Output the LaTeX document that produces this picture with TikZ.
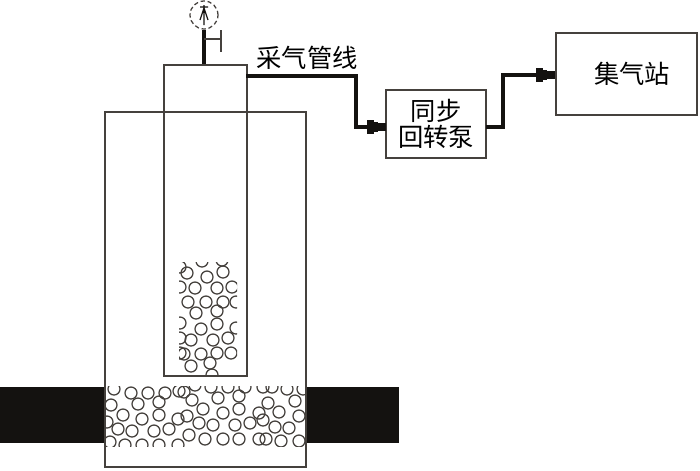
\documentclass[tikz,border=0pt]{standalone}
\usepackage{fontspec}
\setmainfont{Noto Sans CJK SC}
\usepackage{xcolor}
\definecolor{wall}{HTML}{45413D}
\definecolor{pipe}{HTML}{141210}
\usepackage{tikz}
\usetikzlibrary{arrows.meta, positioning, calc}

\begin{document}
\begin{tikzpicture}[
    x=0.025cm, y=-0.025cm,
    font=\fontsize{18}{19}\selectfont,
    wallbox/.style={draw=wall, line width=1pt, minimum height=#1, inner sep=0pt, align=center},
    block/.style={fill=pipe, minimum width=2.5cm, minimum height=1.4cm, inner sep=0pt},
    gas/.style={-{Square[length=1.8mm,width=3.3mm] Square[length=1mm,width=2.7mm] Square[length=2mm,width=1.8mm]}, draw=pipe, line width=2.8pt},
    bead/.style={draw=wall, line width=0.9pt},
]
\useasboundingbox (0,0) rectangle (700,470);

\node[block, minimum width=2.625cm] (blockl) at (52.5,415) {};
\node[block, minimum width=2.325cm] (blockr) at (352.5,415) {};
\node[wallbox=8.875cm, minimum width=5.025cm] (vessel) at (205.5,289.5) {};
\node[wallbox=7.775cm, minimum width=2.075cm] (tube) at (205.5,220.5) {};
\node[wallbox=1.7cm, minimum width=2.5cm] (pump) at (436,124) {同步\\回转泵};
\node[wallbox=2.05cm, minimum width=3.525cm] (station) at (626.5,74) {};
\node (stationlabel) at (632,74) {集气站};
\node (linelabel) at (307,58) {采气管线};

% gauge on top of the tube
\node[draw=wall, densely dashed, line width=0.9pt, circle, minimum size=0.7cm, inner sep=0pt] (gauge) at (204,15) {};
\draw[pipe, line width=0.8pt] (204,5) -- (204,25) (204,8) -- (200,20) (204,8) -- (208,20) (200,7) -- (208,7);
\draw[pipe, line width=2.8pt] (gauge.south) -- (gauge.south |- tube.north);
\coordinate (valve) at (204,39);
\coordinate (valvetop) at (221,30);
\coordinate (valvebot) at (221,52);
\draw[wall, line width=1pt] (valve) -- (valve -| valvetop);
\draw[wall, line width=1pt] (valvetop) -- (valvebot);

% pipes
\coordinate (pipestart) at (246,76);
\coordinate (bendone) at (356,76);
\coordinate (pumpin) at (386,127);
\coordinate (pumpout) at (486,127);
\coordinate (bendtwo) at (503,75);
\draw[gas] (pipestart) -- (bendone) -- (bendone |- pumpin) -- (pumpin);
\draw[gas] (pumpout) -- (bendtwo |- pumpout) -- (bendtwo) -- (bendtwo -| station.west);

% beads in the tube
\begin{scope}
\clip (179,262) rectangle (237,374);
\foreach \bx/\by in {187/273,207/277,223/272,195/288,217/288,188/302,206/302,223/302,196/313,217/311,
    201/329,217/324,191/340,213/340,228/338,184/354,201/354,217/353,191/366,210/363,231/353,
    202/261,180/267,180/287,232/287,236/302,180/323,180/338,236/328,180/353,212/375,222/260}
    \draw[bead] (\bx,\by) circle (6);
\end{scope}

% beads in the bed
\begin{scope}
\clip (105,386) rectangle (306,446);
\foreach \bx/\by in {114/389,131/393,148/393,165/393,179/391,184/392,195/385,211/387,228/387,245/387,263/387,272/387,287/389,303/389,
    111/405,138/404,159/402,192/400,218/398,239/396,268/403,295/401,
    123/415,142/419,159/415,178/419,187/416,203/409,223/413,239/409,259/413,279/412,299/416,
    107/422,118/429,132/431,154/431,169/429,199/423,213/425,235/425,250/423,263/420,275/427,289/428,
    110/442,125/445,142/445,159/445,178/445,189/435,205/439,223/439,239/439,259/439,266/439,281/441,299/441}
    \draw[bead] (\bx,\by) circle (6);
\end{scope}
\end{tikzpicture}
\end{document}
